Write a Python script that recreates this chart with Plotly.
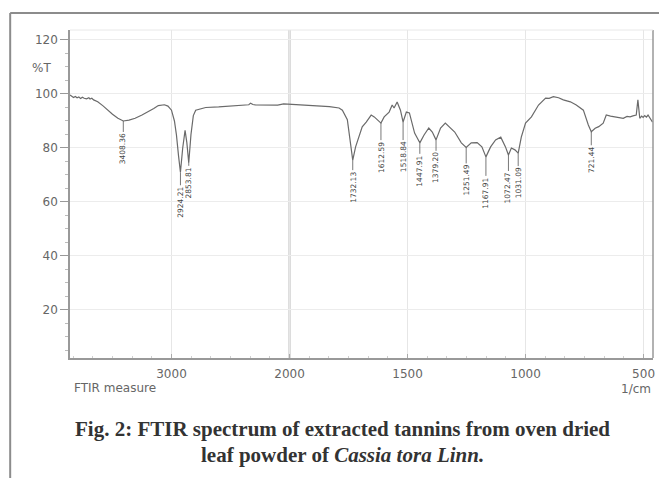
import numpy as np
import plotly.graph_objects as go

# ---- data (wavenumber in 1/cm, transmittance in %T) ----
wavenumber = [3860, 3845, 3830, 3815, 3800, 3785, 3770, 3755, 3740, 3720, 3700, 3690, 3675, 3660, 3640, 3625,
              3580, 3540, 3500, 3454, 3408.36, 3360, 3308, 3250, 3197, 3150, 3112, 3060, 3030, 3000,
              2975, 2958, 2940, 2924.21, 2905, 2885, 2870, 2853.81, 2835, 2815, 2795, 2750, 2710,
              2600, 2500, 2400, 2345, 2330, 2310, 2290, 2200, 2100, 2050, 2000,
              1916, 1831, 1790, 1776, 1755, 1745, 1732.13, 1720, 1700, 1692, 1675, 1654, 1641, 1629,
              1612.59, 1599, 1578, 1565, 1557, 1544, 1530, 1518.84, 1505, 1492, 1470, 1447.91, 1430,
              1410, 1395, 1379.20, 1360, 1340, 1300, 1272, 1251.49, 1230, 1205, 1185, 1167.91, 1148,
              1127, 1105, 1085, 1072.47, 1060, 1045, 1031.09, 1018, 1000, 975, 945, 915, 900, 882,
              860, 840, 810, 785, 755, 734, 721.44, 705, 690, 671, 658, 640, 628, 610, 586, 570,
              557, 545, 531, 524, 516, 508, 502, 495, 488, 481, 472, 462]
transmittance = [99.6, 99.2, 98.7, 99.1, 98.6, 98.9, 98.3, 98.8, 98.4, 98.2, 98.6, 98.1, 98.4, 97.8, 97.5, 97.1,
                 95.6, 94.0, 92.5, 91.0, 90.0, 90.3, 91.0, 92.2, 93.4, 94.6, 95.7, 96.0, 95.5, 94.0,
                 90.0, 84.8, 77.0, 71.0, 80.0, 86.5, 82.0, 74.5, 85.0, 92.0, 94.0, 94.6, 95.0,
                 95.2, 95.6, 95.8, 96.0, 96.6, 96.1, 96.0, 96.0, 95.9, 96.3, 96.2,
                 95.7, 95.3, 94.8, 94.0, 90.5, 84.0, 75.5, 80.4, 86.0, 87.8, 89.6, 92.2, 91.5, 90.4,
                 89.2, 91.5, 93.3, 95.9, 94.8, 97.0, 94.0, 89.6, 93.3, 93.0, 85.5, 81.9, 84.8,
                 87.4, 85.9, 83.0, 87.4, 89.2, 85.9, 81.9, 80.2, 81.9, 82.0, 80.4, 76.7, 80.4,
                 83.0, 84.0, 80.4, 77.4, 80.0, 79.3, 78.1, 84.0, 89.2, 91.5, 95.9, 98.5, 98.4, 99.0,
                 98.6, 97.8, 97.1, 95.9, 94.0, 88.5, 86.0, 87.3, 87.9, 89.2, 92.2, 91.8, 91.6, 91.2, 91.0, 91.7,
                 91.5, 91.9, 92.2, 97.8, 91.0, 91.8, 91.3, 92.0, 91.4, 92.2, 90.8, 89.6]

peak_wavenumbers = [3408.36, 2924.21, 2853.81, 1732.13, 1612.59, 1518.84, 1447.91, 1379.20,
                    1251.49, 1167.91, 1072.47, 1031.09, 721.44]
peak_labels = ["3408.36", "2924.21", "2853.81", "1732.13", "1612.59", "1518.84", "1447.91", "1379.20",
               "1251.49", "1167.91", "1072.47", "1031.09", "721.44"]

x_tick_values = [3000, 2000, 1500, 1000, 500]
x_tick_labels = ["3000", "2000", "1500", "1000", "500"]
y_tick_values = [20, 40, 60, 80, 100, 120]
y_tick_labels = ["20", "40", "60", "80", "100", "120"]


# axis scale is halved above 2000 1/cm (instrument-style split scale)
def to_axis(w):
    w = np.asarray(w, dtype=float)
    return np.where(w <= 2000, w, 2000 + (w - 2000) / 2)


wn = np.array(wavenumber)
tr = np.array(transmittance)
xu = to_axis(wn)

fig = go.Figure()
fig.add_trace(go.Scatter(x=xu, y=tr, mode="lines",
                         line=dict(color="#6a6a6a", width=1.2), hoverinfo="skip"))

tick_font = dict(family="DejaVu Sans", size=12, color="#666")

# peak labels (vertical text hanging under each minimum, joined by a short line)
label_offsets = [28, 30, 20, 27, 34, 35, 28, 28, 33, 36, 33, 30, 28]
for w, txt, off in zip(peak_wavenumbers, peak_labels, label_offsets):
    yv = float(np.interp(-w, -wn, tr))
    fig.add_annotation(x=float(to_axis(w)), y=yv, xref="x", yref="y", text=txt, textangle=-90,
                       showarrow=True, arrowhead=0, arrowwidth=0.8, arrowcolor="#555",
                       ax=0, ay=off, standoff=0,
                       font=dict(family="DejaVu Sans", size=7.5, color="#444"))

fig.update_xaxes(range=[float(to_axis(3860)), float(to_axis(460))],
                 tickmode="array", tickvals=list(to_axis(x_tick_values)), ticktext=x_tick_labels,
                 ticks="inside", ticklen=4, tickcolor="#aaa", ticklabelstandoff=4,
                 showgrid=True, gridcolor="#e6e6e6", gridwidth=1,
                 showline=True, linecolor="#999", linewidth=1.5,
                 minor=dict(dtick=500 / 6, tick0=500, ticks="inside", ticklen=2, tickcolor="#cfcfcf",
                            showgrid=False),
                 tickfont=tick_font, zeroline=False)
fig.update_yaxes(range=[2.2, 123.7], tickmode="array", tickvals=y_tick_values, ticktext=y_tick_labels,
                 ticks="outside", ticklen=8, tickcolor="#999",
                 showgrid=True, gridcolor="#ececec", gridwidth=1,
                 showline=True, linecolor="#999", linewidth=1.5,
                 minor=dict(dtick=5, ticks="outside", ticklen=3, tickcolor="#bbb", showgrid=False),
                 tickfont=tick_font, zeroline=False)

# dark split line at 2000 1/cm
fig.add_shape(type="line", xref="x", yref="paper", x0=2000, x1=2000, y0=0, y1=1,
              line=dict(color="#777", width=1.5), layer="below")
# right and top borders of plot area
fig.add_shape(type="line", xref="paper", yref="paper", x0=1, x1=1, y0=0, y1=1,
              line=dict(color="#999", width=1.5))
fig.add_shape(type="line", xref="paper", yref="paper", x0=0, x1=1, y0=1, y1=1,
              line=dict(color="#e8e8e8", width=1))
# outer frame of the figure panel
fig.add_shape(type="line", xref="paper", yref="paper", x0=-0.1026, x1=1.02, y0=1.0518, y1=1.0518,
              line=dict(color="#8c8c8c", width=2))
fig.add_shape(type="line", xref="paper", yref="paper", x0=-0.1026, x1=-0.1026, y0=1.0518, y1=-0.38,
              line=dict(color="#8c8c8c", width=2))

fig.add_annotation(text="%T", xref="paper", yref="paper", x=-0.0496, y=0.884, showarrow=False,
                   xanchor="center", yanchor="middle", font=tick_font)
fig.add_annotation(text="FTIR measure", xref="paper", yref="paper", x=0.003, y=-0.092,
                   showarrow=False, xanchor="left", yanchor="middle", font=tick_font)
fig.add_annotation(text="1/cm", xref="paper", yref="paper", x=1.0, y=-0.095,
                   showarrow=False, xanchor="right", yanchor="middle", font=tick_font)

cap_font = dict(family="Liberation Serif", size=21, color="#333", weight="bold")
fig.add_annotation(text="Fig. 2: FTIR spectrum of extracted tannins from oven dried",
                   xref="paper", yref="paper", x=0.4667, y=-0.2165, showarrow=False,
                   xanchor="center", yanchor="middle", font=cap_font)
fig.add_annotation(text="leaf powder of <i>Cassia tora Linn.</i>",
                   xref="paper", yref="paper", x=0.4667, y=-0.2957, showarrow=False,
                   xanchor="center", yanchor="middle", font=cap_font)

fig.update_layout(width=659, height=478, margin=dict(l=70, r=4, t=30, b=120),
                  plot_bgcolor="white", paper_bgcolor="white", showlegend=False)

fig.write_html("out.html")
